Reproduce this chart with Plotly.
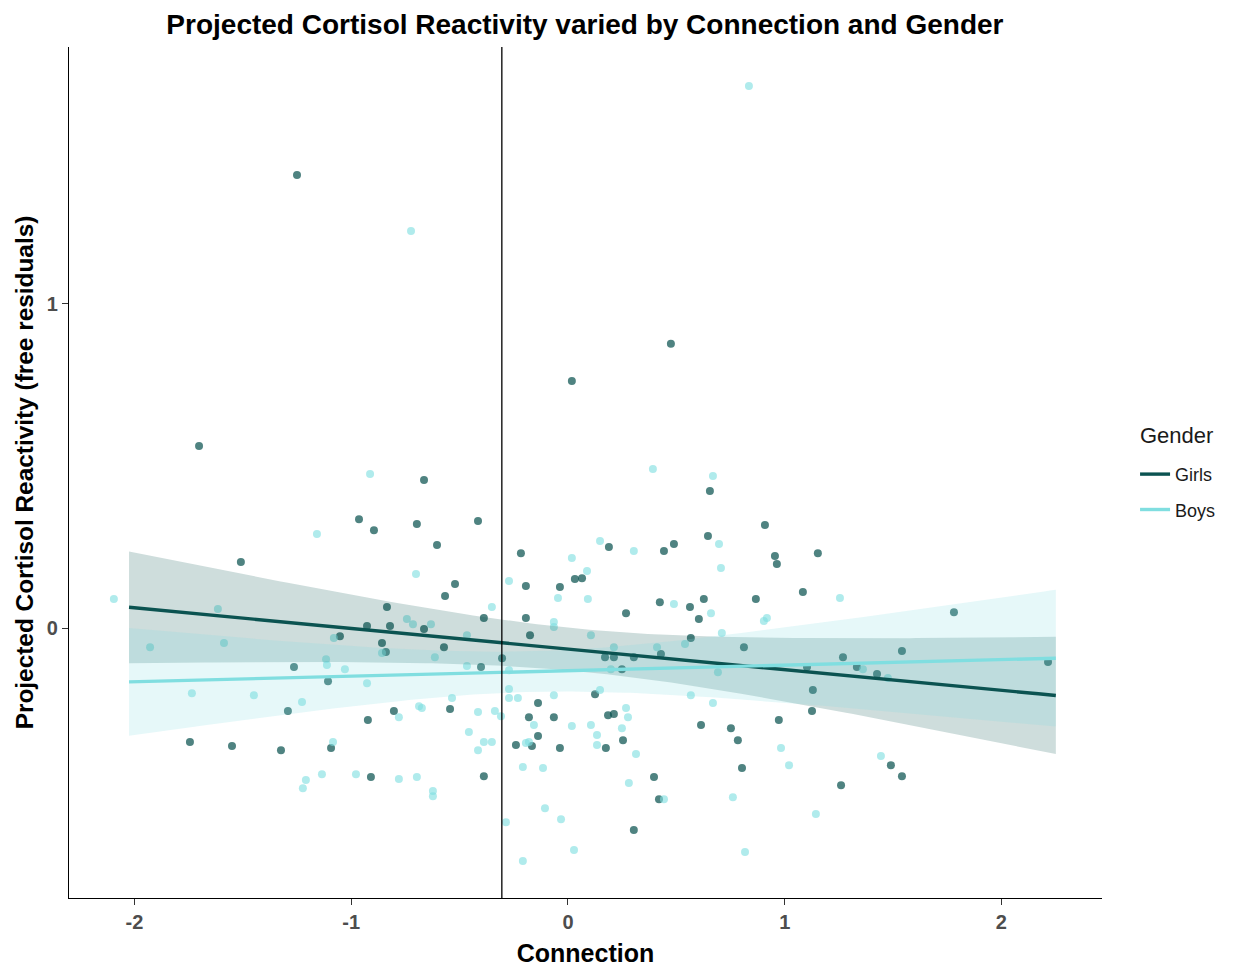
import numpy as np
import plotly.graph_objects as go

# ---------------- data ----------------
girls_connection = [
    -1.250, -1.702, -0.664, 0.018, 0.475, 0.655, -1.509, -1.264, -1.107, -0.964,
    -0.895, -0.697, -0.415, -0.604, -0.217, -0.521, -0.194, -0.567, -0.037, 0.032,
    0.065, -0.835, -0.388, -0.194, -0.927, -0.821, -0.664, -1.052, -0.175, -0.858,
    -0.572, -0.840, -0.304, -0.401, 0.909, 0.189, 0.443, 0.489, 0.646, 0.955,
    0.964, 1.153, 1.084, 0.867, 0.627, 0.424, 0.563, 0.268, 0.604, 0.567,
    0.171, 0.212, 0.304, 0.429, 1.269, 0.249, 1.103, 1.130, 1.781, 1.541,
    1.333, 1.426, 2.215, -1.292, -1.744, -1.550, -1.324, -1.093, -0.803, -0.923,
    -0.544, -0.138, -0.180, -0.065, -0.138, -0.240, -0.166, -0.037, -0.909, -0.388,
    0.125, 1.126, 0.185, 0.212, 0.614, 0.752, 0.973, 0.254, 0.175, 0.784,
    0.803, 0.397, 0.420, 1.260, 0.304, 1.490, 1.541, 0.812,
]
girls_cortisol = [
    1.398, 0.562, 0.457, 0.762, 0.877, 0.423, 0.204, -0.120, -0.164, 0.336,
    0.302, 0.321, 0.330, 0.256, 0.231, 0.136, 0.130, 0.099, 0.127, 0.151,
    0.154, 0.065, 0.031, 0.031, 0.006, 0.006, -0.003, -0.025, -0.022, -0.046,
    -0.059, -0.074, -0.093, -0.120, 0.318, 0.250, 0.238, 0.259, 0.284, 0.222,
    0.198, 0.231, 0.111, 0.090, 0.090, 0.080, 0.065, 0.046, 0.028, -0.031,
    -0.090, -0.090, -0.090, -0.080, -0.090, -0.127, -0.120, -0.191, 0.049, -0.071,
    -0.120, -0.142, -0.105, -0.256, -0.352, -0.364, -0.377, -0.370, -0.256, -0.284,
    -0.250, -0.231, -0.275, -0.275, -0.333, -0.361, -0.364, -0.370, -0.460, -0.457,
    -0.204, -0.256, -0.269, -0.265, -0.299, -0.309, -0.284, -0.346, -0.370, -0.346,
    -0.432, -0.460, -0.528, -0.485, -0.623, -0.423, -0.457, -0.059,
]
boys_connection = [
    0.835, -0.724, -0.913, 0.392, 0.669, -1.158, -2.095, -1.615, -1.928, -1.587,
    -1.116, -1.112, -0.701, 0.018, -0.272, -0.046, 0.088, 0.092, -0.351, -0.743,
    -0.715, -0.632, -0.065, -0.065, -1.080, -0.466, -0.858, -0.614, -0.466, -1.029,
    -0.272, -0.927, -0.272, 0.148, 0.304, 0.697, 0.706, 1.255, 0.489, 0.660,
    0.904, 0.918, 0.106, 0.710, 0.212, 0.411, 0.540, 0.198, 0.692, 0.148,
    1.361, 1.476, -1.735, -1.449, -1.227, -1.135, -1.209, -1.223, -1.084, -0.535,
    -0.687, -0.674, -0.780, -0.415, -0.337, -0.309, -0.272, -0.231, -0.065, -0.157,
    0.018, 0.106, -0.457, -0.388, -0.351, -0.415, -0.194, -0.180, -0.978, -0.780,
    -0.697, -0.623, -0.623, -0.208, -0.115, -0.106, -0.032, -0.286, 0.028, -0.208,
    0.567, 0.669, 0.268, 0.277, 0.249, 0.134, 0.134, 0.314, 0.983, 1.020,
    0.281, 0.443, 0.761, 1.144, 0.817, 1.444,
]
boys_cortisol = [
    1.673, 1.225, 0.475, 0.491, 0.469, 0.290, 0.090, 0.059, -0.059, -0.046,
    -0.096, -0.114, 0.167, 0.216, 0.145, 0.093, 0.176, 0.090, 0.065, 0.028,
    0.012, 0.012, 0.019, 0.003, -0.031, -0.022, -0.077, -0.090, -0.117, -0.127,
    -0.130, -0.170, -0.188, 0.269, 0.238, 0.259, 0.185, 0.093, 0.074, 0.046,
    0.022, 0.031, -0.022, -0.015, -0.059, -0.059, -0.049, -0.127, -0.136, -0.191,
    -0.127, -0.154, -0.201, -0.207, -0.228, -0.451, -0.469, -0.494, -0.352, -0.216,
    -0.241, -0.247, -0.275, -0.259, -0.256, -0.272, -0.216, -0.216, -0.207, -0.299,
    -0.302, -0.299, -0.321, -0.352, -0.352, -0.377, -0.355, -0.352, -0.451, -0.466,
    -0.460, -0.503, -0.519, -0.429, -0.432, -0.556, -0.590, -0.599, -0.685, -0.719,
    -0.207, -0.231, -0.247, -0.275, -0.309, -0.330, -0.361, -0.389, -0.370, -0.423,
    -0.478, -0.528, -0.522, -0.574, -0.691, -0.395,
]

# fitted model lines as shown in the chart (values at the two ends of fit_range)
fit_range = [-2.025, 2.251]
girls_fit_ends = [0.064, -0.208]
girls_halfwidth_ends = [0.170, 0.183]     # 95% band half-width at the ends
boys_fit_ends = [-0.166, -0.093]
boys_halfwidth_ends = [0.164, 0.213]

connection_reference = -0.305        # vertical reference line
x_ticks = [-2, -1, 0, 1, 2]
y_ticks = [0, 1]
x_limits = [-2.302, 2.464]
y_limits = [-0.833, 1.793]

GIRLS = "#0b5351"
BOYS = "#80dee0"
FONT = "Liberation Sans, Arial, sans-serif"


def model_band(x, ends, hw_ends, xs):
    """Linear fit through the chart's end values; band width follows the
    usual regression-CI shape computed from the group's own x values."""
    x = np.asarray(x)
    n = len(x)
    xbar = x.mean()
    sxx = np.sum((x - xbar) ** 2)
    shape = lambda v: np.sqrt(1.0 / n + (np.asarray(v) - xbar) ** 2 / sxx)
    s_end = shape(fit_range)
    h_end = np.asarray(hw_ends)
    k = np.sum(h_end * s_end) / np.sum(s_end ** 2)
    fit = np.interp(xs, fit_range, ends)
    hw = k * shape(xs)
    return fit, fit - hw, fit + hw


xs = np.linspace(fit_range[0], fit_range[1], 160)

groups = [
    ("Girls", girls_connection, girls_cortisol, girls_fit_ends, girls_halfwidth_ends,
     GIRLS, "rgba(11,83,81,0.72)", "rgba(11,83,81,0.2)"),
    ("Boys", boys_connection, boys_cortisol, boys_fit_ends, boys_halfwidth_ends,
     BOYS, "rgba(128,222,224,0.62)", "rgba(128,222,224,0.2)"),
]

fig = go.Figure()

# points
for name, gx, gy, ends, hws, col, pcol, bcol in groups:
    fig.add_trace(go.Scatter(
        x=gx, y=gy, mode="markers", showlegend=False, hoverinfo="skip",
        marker=dict(size=8, color=pcol, line=dict(width=0)),
    ))

# confidence bands
for name, gx, gy, ends, hws, col, pcol, bcol in groups:
    fit, lo, hi = model_band(gx, ends, hws, xs)
    fig.add_trace(go.Scatter(
        x=np.concatenate([xs, xs[::-1]]), y=np.concatenate([hi, lo[::-1]]),
        fill="toself", fillcolor=bcol, line=dict(width=0), mode="lines",
        showlegend=False, hoverinfo="skip",
    ))

# fitted lines
for name, gx, gy, ends, hws, col, pcol, bcol in groups:
    fit, lo, hi = model_band(gx, ends, hws, xs)
    fig.add_trace(go.Scatter(
        x=xs, y=fit, mode="lines", name=name, legendgroup=name,
        line=dict(color=col, width=3.4),
    ))

fig.add_vline(x=connection_reference, line=dict(color="black", width=1.3))

fig.add_annotation(
    text="Gender", xref="paper", yref="paper", x=1.035, y=0.544,
    xanchor="left", yanchor="middle", showarrow=False,
    font=dict(size=22, family=FONT, color="#1a1a1a"),
)

fig.update_layout(
    width=1238, height=968,
    paper_bgcolor="white", plot_bgcolor="white",
    margin=dict(l=61, r=144, t=39, b=78, autoexpand=False),
    font=dict(family=FONT, color="black"),
    title=dict(
        text="<b>Projected Cortisol Reactivity varied by Connection and Gender</b>",
        x=0.466, xanchor="center", y=0.983, yanchor="middle",
        font=dict(size=28, color="black", family=FONT),
    ),
    legend=dict(
        font=dict(size=18, family=FONT, color="#1a1a1a"),
        x=1.032, xanchor="left", y=0.5195, yanchor="top",
        itemwidth=30, tracegroupgap=9, traceorder="grouped",
    ),
)

fig.update_xaxes(
    range=x_limits, tickvals=x_ticks, ticktext=[str(v) for v in x_ticks],
    showgrid=False, zeroline=False, showline=True, linecolor="black", linewidth=1.3,
    ticks="outside", ticklen=6, tickcolor="#333", tickwidth=1.3,
    tickfont=dict(size=20, color="#4d4d4d", family=FONT, weight="bold"),
    title=dict(text="<b>Connection</b>", font=dict(size=25, color="black", family=FONT), standoff=12),
)
fig.update_yaxes(
    range=y_limits, tickvals=y_ticks, ticktext=[str(v) for v in y_ticks],
    showgrid=False, zeroline=False, showline=True, linecolor="black", linewidth=1.3,
    ticks="outside", ticklen=6, tickcolor="#333", tickwidth=1.3,
    tickfont=dict(size=20, color="#4d4d4d", family=FONT, weight="bold"),
    title=dict(text="<b>Projected Cortisol Reactivity (free residuals)</b>",
               font=dict(size=24.4, color="black", family=FONT), standoff=6),
)

fig.write_html("out.html")
